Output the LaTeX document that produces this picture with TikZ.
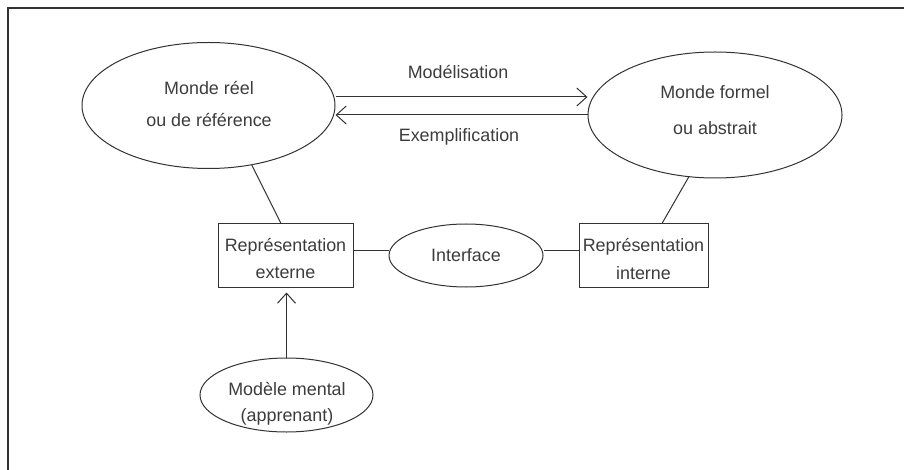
\documentclass[tikz,border=0pt]{standalone}
\usepackage{fontspec}
\setmainfont{Liberation Sans}
\usetikzlibrary{arrows.meta,shapes.geometric,calc}
\definecolor{ink}{RGB}{50,50,50}
\definecolor{tink}{RGB}{60,60,60}
\begin{document}
\begin{tikzpicture}[x=1pt,y=-1pt,
  every node/.style={text=tink, font=\fontsize{17.9}{21}\selectfont},
  ell/.style={draw=ink, line width=1pt, ellipse, inner sep=0pt},
  boxn/.style={draw=ink, line width=1pt, rectangle, inner sep=0pt},
  txt/.style={align=center, inner sep=0pt},
  link/.style={draw=ink, line width=1pt},
  arr/.style={link, -{Straight Barb[length=10pt,width=18pt]}}]
\useasboundingbox (0,0) rectangle (904,470);
\draw[ink, line width=2pt] (904,8.5) -- (8,8.5) -- (8,470);

% shapes
\node[ell, minimum width=253pt, minimum height=126pt] (reel) at (208.5,105.5) {};
\node[ell, minimum width=254pt, minimum height=126pt] (formel) at (715,115) {};
\node[boxn, minimum width=135pt, minimum height=63pt] (ext) at (285.5,255.5) {};
\node[ell, minimum width=154pt, minimum height=63pt] (intf) at (466,255.5) {Interface};
\node[boxn, minimum width=129pt, minimum height=63pt] (int) at (643.5,255.5) {};
\node[ell, minimum width=173pt, minimum height=74pt] (mental) at (286.5,395) {};

% texts
\node[txt, font=\fontsize{17.9}{32}\selectfont] (reelT) at (209,104) {Monde réel\\ou de référence};
\node[txt, font=\fontsize{17.9}{36}\selectfont] (formelT) at (715,110) {Monde formel\\ou abstrait};
\node[txt, font=\fontsize{17.9}{27}\selectfont] (extT) at (285.5,258.5) {Représentation\\externe};
\node[txt, font=\fontsize{17.9}{28}\selectfont] (intT) at (643.5,259) {Représentation\\interne};
\node[txt, font=\fontsize{17.9}{26}\selectfont] (mentalT) at (287,404) {Modèle mental\\(apprenant)};
\node[txt] (modT) at (458,72) {Modélisation};
\node[txt] (exT) at (459,137) {Exemplification};

% connectors
\draw[arr] (reel.east |- 0,97) -- (formel.west |- 0,97);
\draw[arr] (formel.west) -- (reel.east |- formel.west);
\draw[link] (reel.-54) -- ([xshift=-4.5pt]ext.north);
\draw[link] (formel.-113) -- ([xshift=18.5pt]int.north);
\draw[link] ([yshift=4.5pt]ext.east) -- ([yshift=4.5pt]intf.west);
\draw[link] ([yshift=4.5pt]intf.east) -- ([yshift=4.5pt]int.west);
\draw[arr, shorten >=5pt] (mental.north) -- (mental.north |- ext.south);
\end{tikzpicture}
\end{document}
